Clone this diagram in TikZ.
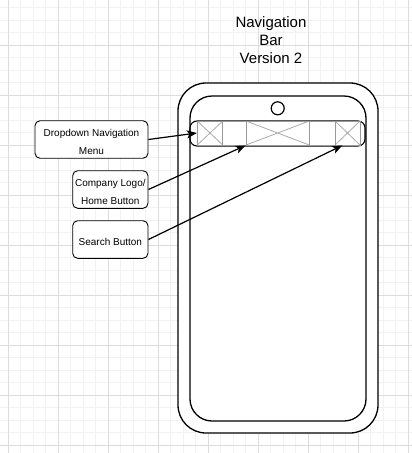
\documentclass[tikz,border=0pt]{standalone}
\usepackage{fontspec}
\setmainfont{Liberation Sans}
\usetikzlibrary{arrows.meta,calc}
\definecolor{gridminor}{HTML}{F2F2F2}
\definecolor{gridmajor}{HTML}{DDDDDD}
\definecolor{cellgray}{HTML}{999999}
\definecolor{xgray}{HTML}{AAAAAA}
\begin{document}
\begin{tikzpicture}[x=1pt,y=-1pt,
  minorline/.style={draw=gridminor,line width=0.8pt},
  majorline/.style={draw=gridmajor,line width=0.8pt},
  phonebody/.style={draw=black,line width=1.3pt,fill=white,inner sep=0pt},
  labelbox/.style={draw=black,line width=0.9pt,rounded corners=5pt,fill=white,inner sep=0pt},
  boxtext/.style={inner sep=0pt,align=center,font=\fontsize{10}{17.5}\selectfont},
  navcell/.style={draw=cellgray,line width=0.9pt,inner sep=0pt,minimum height=24pt},
  xcell/.style={navcell,path picture={\draw[xgray,line width=0.8pt]
      (path picture bounding box.north west) -- (path picture bounding box.south east)
      (path picture bounding box.south west) -- (path picture bounding box.north east);}},
  conn/.style={draw=black,line width=1.2pt,-{Stealth[length=10pt,width=8pt,inset=2.5pt]}},
  titletext/.style={align=center,inner sep=0pt,font=\fontsize{15}{18}\selectfont}
]
\useasboundingbox (0,0) rectangle (412,453);
\fill[white] (0,0) rectangle (412,453);
% grid
\foreach \i in {0,...,32} \draw[minorline] ({8.3+12.5*\i},0) -- ++(0,453);
\foreach \i in {0,...,35} \draw[minorline] (0,{7.5+12.5*\i}) -- ++(412,0);
\foreach \i in {0,...,8} \draw[majorline] ({8.3+50*\i},0) -- ++(0,453);
\foreach \i in {0,...,8} \draw[majorline] (0,{45+50*\i}) -- ++(412,0);

% title
\node[titletext] (title) at (271,39.7) {Navigation\\Bar\\Version 2\hspace{6pt}};

% phone
\node[phonebody,rounded corners=28pt,minimum width=200pt,minimum height=350pt] (outer) at (278,258) {};
\node[phonebody,rounded corners=22pt,minimum width=176pt,minimum height=325pt] (inner) at (278,258.5) {};
\node[draw=black,line width=1.2pt,circle,minimum size=13pt,inner sep=0pt] (camera) at (277.7,108.3) {};

% navigation bar
\node[draw=black,line width=1.1pt,rounded corners=7pt,minimum width=175pt,minimum height=25pt,inner sep=0pt] (bar) at (277.5,133.5) {};
\node[xcell,minimum width=25.4pt] (c1) at (210,133) {};
\node[navcell,minimum width=23.3pt] (c2) at (234.35,133) {};
\node[xcell,minimum width=63.3pt] (c3) at (277.65,133) {};
\node[navcell,minimum width=25.7pt] (c4) at (322.15,133) {};
\node[xcell,minimum width=25pt] (c5) at (347.5,133) {};

% label boxes
\node[labelbox,minimum width=113pt,minimum height=37.5pt] (b1) at (91.5,139.5) {};
\node[labelbox,minimum width=75.3pt,minimum height=37.6pt] (b2) at (110.35,189.5) {};
\node[labelbox,minimum width=75.3pt,minimum height=37.6pt] (b3) at (110.35,239.5) {};
\node[boxtext] (b1t) at ([yshift=-2.5pt]b1.center) {Dropdown Navigation\\Menu};
\node[boxtext] (b2t) at ([yshift=-2.2pt]b2.center) {Company Logo/\\Home Button};
\node[boxtext] (b3t) at ([yshift=-2pt]b3.center) {Search Button};

% connectors
\coordinate (t3) at ($(c5.south west)!0.3!(c5.south east)$);
\draw[conn] (b1.east) -- (c1.west);
\draw[conn] (b2.east) -- (c3.south west);
\draw[conn] (b3.east) -- (t3);
\end{tikzpicture}
\end{document}
